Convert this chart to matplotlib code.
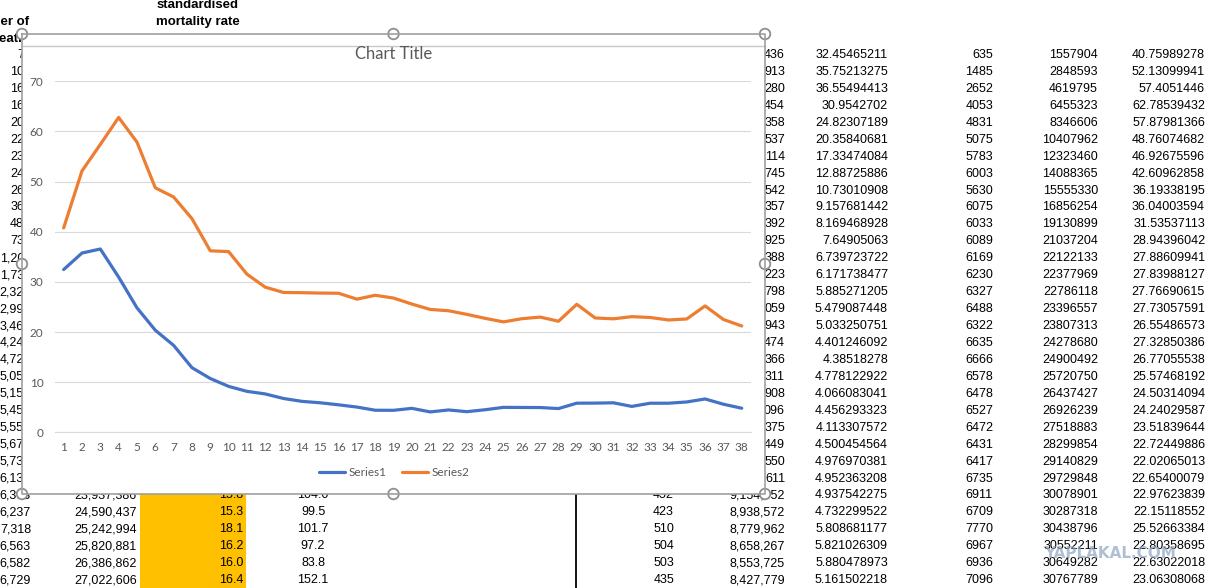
import matplotlib
matplotlib.use("Agg")
import matplotlib.pyplot as plt
from matplotlib.patches import Rectangle, Circle
from matplotlib.lines import Line2D

# ---------------- data ----------------
categories = list(range(1, 39))
series1 = [32.45465211, 35.75213275, 36.55494413, 30.9542702, 24.82307189, 20.35840681,
           17.33474084, 12.88725886, 10.73010908, 9.157681442, 8.169468928, 7.64905063,
           6.739723722, 6.171738477, 5.885271205, 5.479087448, 5.033250751, 4.401246092,
           4.38518278, 4.778122922, 4.066083041, 4.456293323, 4.113307572, 4.500454564,
           4.976970381, 4.952363208, 4.937542275, 4.732299522, 5.808681177, 5.821026309,
           5.880478973, 5.161502218, 5.8, 5.8, 6.05, 6.65, 5.6, 4.8]
series2 = [40.75989278, 52.13099941, 57.4051446, 62.78539432, 57.87981366, 48.76074682,
           46.92675596, 42.60962858, 36.19338195, 36.04003594, 31.53537113, 28.94396042,
           27.88609941, 27.83988127, 27.76690615, 27.73057591, 26.55486573, 27.32850386,
           26.77055538, 25.57468192, 24.50314094, 24.24029587, 23.51839644, 22.72449886,
           22.02065013, 22.65400079, 22.97623839, 22.15118552, 25.52663384, 22.80358695,
           22.63022018, 23.06308068, 22.9, 22.4, 22.6, 25.2, 22.5, 21.2]
series_names = ["Series1", "Series2"]
y_ticks = [0, 10, 20, 30, 40, 50, 60, 70]
chart_title = "Chart Title"

# spreadsheet cells visible around the chart
deaths2 = [635, 1485, 2652, 4053, 4831, 5075, 5783, 6003, 5630, 6075, 6033, 6089, 6169, 6230,
           6327, 6488, 6322, 6635, 6666, 6578, 6478, 6527, 6472, 6431, 6417, 6735, 6911, 6709,
           7770, 6967, 6936, 7096]
pop2 = [1557904, 2848593, 4619795, 6455323, 8346606, 10407962, 12323460, 14088365, 15555330,
        16856254, 19130899, 21037204, 22122133, 22377969, 22786118, 23396557, 23807313,
        24278680, 24900492, 25720750, 26437427, 26926239, 27518883, 28299854, 29140829,
        29729848, 30078901, 30287318, 30438796, 30552211, 30649282, 30767789]
pop1_text = ["436", "913", "280", "454", "358", "537", "114", "745", "542", "357", "392", "925",
             "388", "223", "798", "059", "943", "474", "366", "311", "908", "096", "375", "449",
             "550", "611", "9,154,552", "8,938,572", "8,779,962", "8,658,267", "8,553,725",
             "8,427,779"]
deaths1_tail = ["452", "423", "510", "504", "503", "435"]
left_deaths = ["71", "104", "160", "168", "207", "228", "234", "245", "263", "364", "487", "735",
               "1,204", "1,734", "2,324", "2,994", "3,464", "4,244", "4,724", "5,054", "5,154",
               "5,454", "5,554", "5,674", "5,734", "6,134", "6,393", "6,237", "7,318", "6,563",
               "6,582", "6,729"]
left_pop_tail = ["23,937,386", "24,590,437", "25,242,994", "25,820,881", "26,386,862", "27,022,606"]
left_rate_tail = ["15.8", "15.3", "18.1", "16.2", "16.0", "16.4"]
left_ratio_tail = ["104.0", "99.5", "101.7", "97.2", "83.8", "152.1"]

# ---------------- figure ----------------
W, H = 1213, 588
fig = plt.figure(figsize=(W / 100, H / 100), dpi=100)
fig.patch.set_facecolor("white")

bg = fig.add_axes([0, 0, 1, 1], zorder=0)
bg.set_xlim(0, W)
bg.set_ylim(H, 0)
bg.axis("off")

SHEET_FONT = ["Liberation Sans", "DejaVu Sans"]
SHEET = dict(family=SHEET_FONT, fontsize=9, color="black", va="center")
HEAD = dict(family=SHEET_FONT, fontsize=9.5, color="black", va="center", fontweight="bold")

def row_y(i):
    return 55 + 16.94 * i

# header
bg.text(198, 5, "standardised", ha="center", **HEAD)
bg.text(198, 22, "mortality rate", ha="center", **HEAD)
bg.text(29, 22, "Number of", ha="right", **HEAD)
bg.text(-8, 39, "deaths", ha="left", **HEAD)

# yellow column
bg.add_patch(Rectangle((140, 46), 106, H - 46, facecolor="#FFC000", edgecolor="none", zorder=1))
# vertical border line
bg.plot([576, 576], [46, H], color="black", lw=1.3, zorder=1)

n = len(deaths2)
for i in range(n):
    y = row_y(i)
    bg.text(31, y, left_deaths[i], ha="right", zorder=2, **SHEET)
    bg.text(785, y, pop1_text[i], ha="right", zorder=2, **SHEET)
    bg.text(888, y, f"{series1[i]:.10g}", ha="right", zorder=2, **SHEET)
    bg.text(993, y, str(deaths2[i]), ha="right", zorder=2, **SHEET)
    bg.text(1098, y, str(pop2[i]), ha="right", zorder=2, **SHEET)
    bg.text(1205, y, f"{series2[i]:.10g}", ha="right", zorder=2, **SHEET)
for j in range(6):
    y = row_y(26 + j)
    bg.text(137, y, left_pop_tail[j], ha="right", zorder=2, **SHEET)
    bg.text(243, y, left_rate_tail[j], ha="right", zorder=2, **SHEET)
    bg.text(313, y, left_ratio_tail[j], ha="center", zorder=2, **SHEET)
    bg.text(674, y, deaths1_tail[j], ha="right", zorder=2, **SHEET)

# chart area (white)
CL, CR, CT, CB = 22, 765, 34, 494
bg.add_patch(Rectangle((CL, CT), CR - CL, CB - CT, facecolor="white", edgecolor="none", zorder=5))

# ---------------- chart ----------------
CHART_FONT = ["Lato", "DejaVu Sans"]
px_l, px_r, px_t, px_b = 54.5, 750.9, 81.3, 432.3
ax = fig.add_axes([px_l / W, 1 - px_b / H, (px_r - px_l) / W, (px_b - px_t) / H], zorder=1)
ax.patch.set_alpha(0)
l1, = ax.plot(categories, series1, color="#4472C4", lw=2.3, solid_joinstyle="round",
              solid_capstyle="round", label=series_names[0])
l2, = ax.plot(categories, series2, color="#ED7D31", lw=2.3, solid_joinstyle="round",
              solid_capstyle="round", label=series_names[1])
ax.set_xlim(0.5, len(categories) + 0.5)
ax.set_ylim(0, 70)
ax.set_yticks(y_ticks)
ax.set_xticks(categories)
ax.set_xticklabels([str(c) for c in categories])
ax.grid(axis="y", color="#D9D9D9", lw=0.8)
ax.set_axisbelow(True)
for s in ["top", "right", "left"]:
    ax.spines[s].set_visible(False)
ax.spines["bottom"].set_color("#D9D9D9")
ax.spines["bottom"].set_linewidth(0.8)
ax.tick_params(axis="both", length=0, colors="#595959", labelsize=8.5)
ax.tick_params(axis="y", pad=8)
ax.tick_params(axis="x", pad=7)
for lab in ax.get_xticklabels() + ax.get_yticklabels():
    lab.set_family(CHART_FONT)

leg = fig.legend(handles=[l1, l2], labels=series_names, loc="center",
                 bbox_to_anchor=(394 / W, 1 - 473 / H), ncol=2, frameon=False,
                 handlelength=2.2, handletextpad=0.3, columnspacing=1.3,
                 prop={"family": CHART_FONT, "size": 8.5})
for t in leg.get_texts():
    t.set_color("#595959")

# ---------------- overlay: title, frame, handles, watermark ----------------
ov = fig.add_axes([0, 0, 1, 1], zorder=3)
ov.set_xlim(0, W)
ov.set_ylim(H, 0)
ov.axis("off")
ov.patch.set_alpha(0)

ov.text((CL + CR) / 2, 54, chart_title, ha="center", va="center", color="#595959",
        fontsize=12, family=CHART_FONT)

ov.add_line(Line2D([CL, CR], [46, 46], color="#C8C8C8", lw=1.0))
ov.add_line(Line2D([CL, CR, CR, CL, CL], [CT, CT, CB, CB, CT], color="#A0A0A0", lw=1.2))
mx, my = (CL + CR) / 2, (CT + CB) / 2
for (hx, hy) in [(CL, CT), (mx, CT), (CR, CT), (CL, my), (CR, my), (CL, CB), (mx, CB), (CR, CB)]:
    ov.add_patch(Circle((hx, hy), 5.3, facecolor="white", edgecolor="#8F8F8F", lw=1.3))

ov.text(1110, 553, "YAPLAKAL.COM", ha="center", va="center", fontsize=11, fontweight="bold",
        color="#8FA6C0", alpha=0.7, family=["DejaVu Sans"])

fig.savefig("out.png", dpi=100)
